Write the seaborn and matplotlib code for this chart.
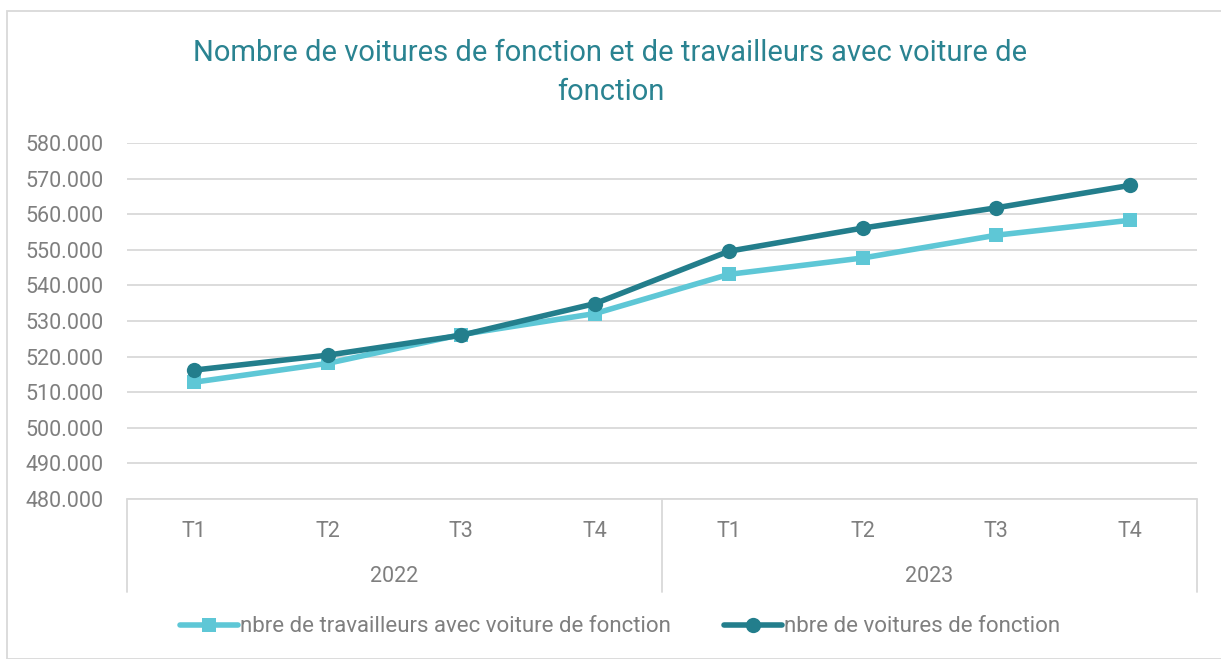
import numpy as np
import pandas as pd
import matplotlib.pyplot as plt
import seaborn as sns
from matplotlib.lines import Line2D
from matplotlib.patches import Rectangle
import matplotlib.transforms as mtransforms

years = ["2022", "2023"]
quarters = ["T1", "T2", "T3", "T4"]
travailleurs = [512800, 518100, 526200, 532100, 543100, 547700, 554100, 558300]
voitures = [516200, 520400, 526000, 534900, 549600, 556100, 561800, 568100]

lab_trav = "nbre de travailleurs avec voiture de fonction"
lab_voit = "nbre de voitures de fonction"
light = "#5EC7D6"
dark = "#237E8C"
grey = "#7F7F7F"

sns.set_style("white")
plt.rcParams["font.family"] = ["Roboto", "DejaVu Sans"]

df = pd.DataFrame({
    "pos": np.arange(len(travailleurs)),
    lab_trav: travailleurs,
    lab_voit: voitures,
})

fig = plt.figure(figsize=(12.21, 6.59), dpi=100)
ax = fig.add_axes([127 / 1221, 1 - 499 / 659, 1070 / 1221, 356 / 659])

sns.lineplot(data=df, x="pos", y=lab_trav, ax=ax, color=light, lw=4,
             marker="s", markersize=10, markeredgewidth=0, zorder=3)
sns.lineplot(data=df, x="pos", y=lab_voit, ax=ax, color=dark, lw=4,
             marker="o", markersize=11, markeredgewidth=0, zorder=4)

ax.set_ylim(480000, 580000)
ax.set_xlim(-0.5, 7.5)
ax.set_yticks(np.arange(480000, 580001, 10000))
ax.set_yticklabels([f"{v // 1000}.000" for v in range(480000, 580001, 10000)])
ax.yaxis.grid(True, color="#D9D9D9", lw=1.3)
ax.xaxis.grid(False)
for s in ax.spines.values():
    s.set_visible(False)
ax.tick_params(axis="y", length=0, labelsize=15.5, labelcolor=grey, pad=17)

ax.set_xticks(df["pos"])
ax.set_xticklabels(quarters * len(years))
ax.tick_params(axis="x", length=0, labelsize=15.5, labelcolor=grey, pad=16)
ax.set_xlabel("")
ax.set_ylabel("")

# category axis box (two levels)
box_h = (592 - 499) / 356
trans = mtransforms.blended_transform_factory(ax.transData, ax.transAxes)
for xv in [-0.5, 3.5, 7.5]:
    ax.add_line(Line2D([xv, xv], [0, -box_h], transform=trans, color="#D9D9D9",
                       lw=1.3, clip_on=False))
ax.add_line(Line2D([-0.5, 7.5], [0, 0], transform=trans, color="#D9D9D9",
                   lw=1.3, clip_on=False))
for i, yr in enumerate(years):
    ax.text(i * 4 + 1.5, -(576 - 499) / 356, yr, transform=trans, ha="center",
            va="center", fontsize=15.5, color=grey)

fig.suptitle("Nombre de voitures de fonction et de travailleurs avec voiture de\nfonction",
             y=1 - 39 / 659, va="top", fontsize=21, color="#2A8391", linespacing=1.5)

handles = [
    Line2D([], [], color=light, lw=4, marker="s", markersize=10, markeredgewidth=0),
    Line2D([], [], color=dark, lw=4, marker="o", markersize=11, markeredgewidth=0),
]
fig.legend(handles, [lab_trav, lab_voit], loc="center", bbox_to_anchor=(0.508, 1 - 627 / 659),
           ncol=2, frameon=False, fontsize=16, labelcolor=grey, handlelength=2.6,
           handletextpad=0.1, columnspacing=2.4)

fig.patches.append(Rectangle((7 / 1221, 0), 1.2, 1 - 11 / 659, transform=fig.transFigure,
                             fill=False, ec="#D9D9D9", lw=1.3))

fig.savefig("out.png", dpi=100)
